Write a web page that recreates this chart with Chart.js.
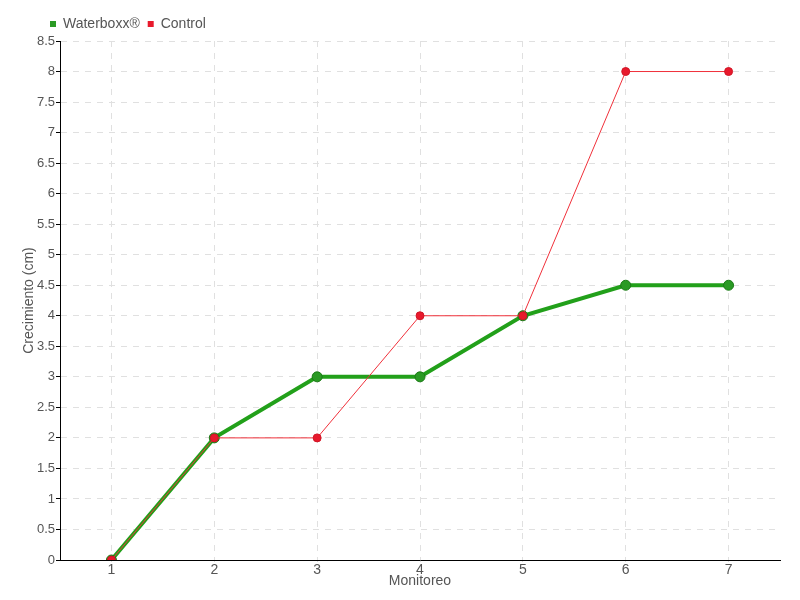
<!DOCTYPE html>
<html>
<head>
  <title>Crecimiento</title>
  <script src="https://cdn.jsdelivr.net/npm/chart.js"></script>
  <style>
    body { margin: 0; padding: 0; background: #fff; }
    #wrap { width: 800px; height: 600px; }
  </style>
</head>
<body>
  <div id="wrap"><canvas id="chart" width="800" height="600"></canvas></div>
  <script>
    // data
    const monitoreo = ['1', '2', '3', '4', '5', '6', '7'];
    const waterboxx = [0, 2, 3, 3, 4, 4.5, 4.5];
    const control = [0, 2, 2, 4, 4, 8, 8];

    const FONT = "'Liberation Sans', Arial, sans-serif";
    const TXT = '#555';
    const f = size => ({ family: FONT, size: size });

    // push the legend to the right, it sits above the axis in the original
    const legendShift = {
      id: 'legendShift',
      afterLayout(chart) {
        chart.legend.left += 42;
        chart.legend.right += 42;
      }
    };

    const ctx = document.getElementById('chart').getContext('2d');
    const chart = new Chart(ctx, {
      type: 'line',
      data: {
        labels: monitoreo,
        datasets: [{
          label: 'Waterboxx®',
          data: waterboxx,
          borderColor: '#22a01a',
          backgroundColor: '#2a9a24',
          pointBorderColor: '#1a7a15',
          borderWidth: 4,
          pointRadius: 5,
          pointBorderWidth: 1,
          tension: 0,
          order: 1
        }, {
          label: 'Control',
          data: control,
          borderColor: '#f0303a',
          backgroundColor: '#e8192c',
          pointBorderColor: '#d01525',
          borderWidth: 1,
          pointRadius: 4,
          pointBorderWidth: 1,
          tension: 0,
          order: 0
        }]
      },
      options: {
        responsive: false,
        animation: false,
        layout: { padding: { left: 0, right: 20, top: 9, bottom: 0 } },
        scales: {
          x: {
            offset: true,
            grid: {
              offset: false,
              color: '#e0e0e0',
              tickColor: '#e0e0e0',
              tickLength: 2
            },
            border: { color: '#000', width: 1, dash: [6, 6] },
            ticks: { color: TXT, font: f(14), padding: 0 },
            title: { display: true, text: 'Monitoreo', color: TXT, font: f(14), padding: { top: 0, bottom: 10 } },
            afterFit: s => { s.height = 40; }
          },
          y: {
            min: 0,
            max: 8.5,
            ticks: {
              stepSize: 0.5,
              color: TXT,
              font: f(13),
              padding: 1,
              callback: v => String(v)
            },
            grid: {
              color: '#e0e0e0',
              tickColor: '#000',
              tickBorderDash: [],
              tickLength: 4
            },
            border: { color: '#000', width: 1, dash: [6, 6] },
            title: { display: true, text: 'Crecimiento (cm)', color: TXT, font: f(14), padding: { top: 21, bottom: 0 } },
            afterFit: s => { s.width = 60; }
          }
        },
        plugins: {
          legend: {
            align: 'start',
            labels: {
              boxWidth: 6,
              boxHeight: 6,
              padding: 8,
              color: TXT,
              font: f(14),
              sort: (a, b) => a.datasetIndex - b.datasetIndex,
              generateLabels: c => Chart.defaults.plugins.legend.labels.generateLabels(c).map(l => {
                l.lineWidth = 0;
                l.fillStyle = c.data.datasets[l.datasetIndex].backgroundColor;
                return l;
              })
            }
          },
          tooltip: { enabled: false }
        }
      },
      plugins: [legendShift]
    });
  </script>
</body>
</html>
